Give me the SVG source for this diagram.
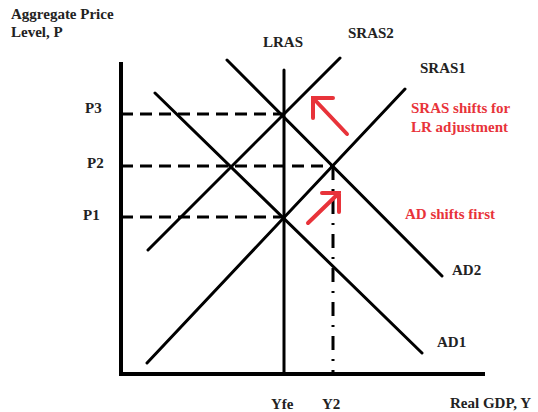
<svg xmlns="http://www.w3.org/2000/svg" width="538" height="412" viewBox="0 0 538 412">
<style>
.t{font-family:"Liberation Serif","Times New Roman",serif;font-weight:bold;font-size:15px;fill:#222}
.r{font-family:"Liberation Serif","Times New Roman",serif;font-weight:bold;font-size:15px;fill:#e8333a}
.ax{stroke:#000;stroke-width:4;fill:none}
.ln{stroke:#000;stroke-width:3;fill:none;stroke-linecap:round}
.d{stroke:#000;stroke-width:3;fill:none;stroke-dasharray:12 7}
.dd{stroke:#000;stroke-width:3;fill:none;stroke-dasharray:14 9 2 9}
.ar{stroke:#e8333a;stroke-width:4;fill:none;stroke-linecap:round;stroke-linejoin:miter}
</style>
<rect width="538" height="412" fill="#fff"/>
<g id="axes">
<path class="ax" d="M121 62 V374 H485"/>
</g>
<g id="connectors">
<path class="d" d="M121 114 H284"/>
<path class="d" d="M121 166 H333"/>
<path class="d" d="M121 217 H284"/>
<path class="dd" d="M333 166 V374"/>
</g>
<g id="LRAS"><path class="ln" d="M284 70 V374"/><text class="t" x="263" y="47">LRAS</text></g>
<g id="SRAS2"><path class="ln" d="M148 250 L340 58"/><text class="t" x="348" y="38">SRAS2</text></g>
<g id="SRAS1"><path class="ln" d="M147 363 L405 89"/><text class="t" x="420" y="73">SRAS1</text></g>
<g id="AD1"><path class="ln" d="M155 93 L422 353"/><text class="t" x="437" y="347">AD1</text></g>
<g id="AD2"><path class="ln" d="M227 60 L442 276"/><text class="t" x="452" y="275">AD2</text></g>
<g id="arrow-sras"><path class="ar" d="M347 134 L313 98 M333 98 H313 V118"/></g>
<g id="arrow-ad"><path class="ar" d="M308 223 L339 193 M322 193 H339 V212"/></g>
<g id="labels">
<text class="t" x="11" y="19">Aggregate Price</text>
<text class="t" x="11" y="37">Level, P</text>
<text class="t" x="85" y="113">P3</text>
<text class="t" x="87" y="168">P2</text>
<text class="t" x="83" y="220">P1</text>
<text class="t" x="271" y="409">Yfe</text>
<text class="t" x="322" y="409">Y2</text>
<text class="t" x="450" y="408">Real GDP, Y</text>
<text class="r" x="411" y="113">SRAS shifts for</text>
<text class="r" x="411" y="132">LR adjustment</text>
<text class="r" x="405" y="219">AD shifts first</text>
</g>
</svg>
